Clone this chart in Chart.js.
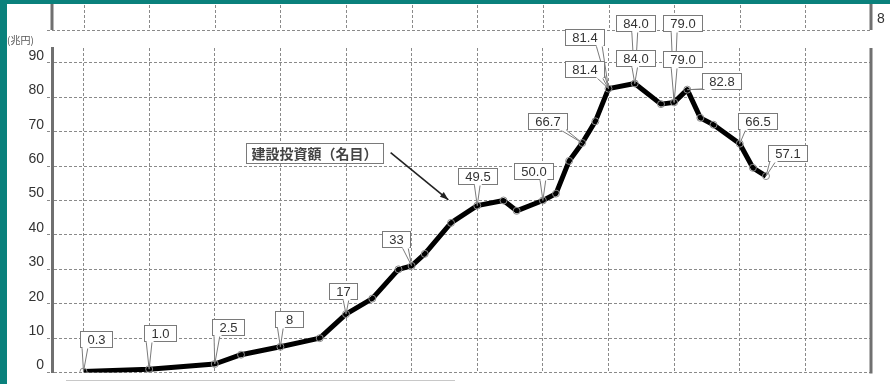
<!DOCTYPE html>
<html>
<head>
<meta charset="utf-8">
<script src="https://cdn.jsdelivr.net/npm/chart.js@4.4.0/dist/chart.umd.min.js"></script>
<style>
  body { margin: 0; background: #fff; }
  #wrap { position: relative; width: 890px; height: 384px; }
</style>
</head>
<body>
<div id="wrap"><canvas id="chart" width="890" height="384"></canvas></div>
<script>
// Data (fiscal year, construction investment in trillion yen)
const years = [1950, 1955, 1960, 1962, 1965, 1968, 1970, 1972, 1974, 1975, 1976, 1978, 1980, 1982, 1983,
  1985, 1986, 1987, 1988, 1989, 1990, 1992, 1994, 1995, 1996, 1997, 1998, 2000, 2001, 2002];
const values = [0.3, 1.0, 2.5, 5.2, 7.5, 10, 17, 21.5, 30, 31, 34.5, 43.5, 48.5, 50, 47,
  50.0, 52, 61.5, 66.7, 73, 82.5, 84.0, 78, 78.5, 82.2, 74, 72, 66.5, 59.5, 57.1];

// Value labels shown in the callout boxes (first three are the ghost copies higher up)
const labelYears = [1990, 1992, 1995, 1950, 1955, 1960, 1965, 1970, 1975, 1980, 1985, 1988, 1990, 1992, 1995, 1996, 2000, 2002];
const labelTexts = ['81.4', '84.0', '79.0', '0.3', '1.0', '2.5', '8', '17', '33', '49.5', '50.0', '66.7', '81.4', '84.0', '79.0', '82.8', '66.5', '57.1'];

const yTicks = [0, 10, 20, 30, 40, 50, 60, 70, 80, 90];
const xGridYears = [1950, 1955, 1960, 1965, 1970, 1975, 1980, 1985, 1990, 1995, 2000, 2005];
const seriesName = '建設投資額（名目）';
const unitLabel = '(兆円)';

// callout box offsets from the point (px)
const labelOffsets = [[-24, -52], [1, -60], [8, -79], [12, -33], [11, -36], [13, -37], [9, -28], [-3, -23], [-16, -27],
  [0, -30], [-9, -29], [-35, -22], [-24, -20], [1, -25], [8, -43], [34, -9], [18, -23], [21, -23]];

const GRID = '#8a8a8a';
const AXIS = '#707070';
const TEAL = '#0a817c';
const NUM_FONT = '"Liberation Sans", Arial, sans-serif';

function callout(ctx, px, py, cx, cy, text) {
  ctx.save();
  ctx.font = '13px ' + NUM_FONT;
  const w = Math.round(Math.max(ctx.measureText(text).width + 14, 28));
  const h = 16;
  const l = Math.round(cx - w / 2), t = Math.round(cy - h / 2), r = l + w, b = t + h;
  ctx.strokeStyle = '#7a7a7a';
  ctx.lineWidth = 1;
  ctx.fillStyle = '#fff';
  let b1, b2;
  if (py > b) {
    const bx = Math.min(Math.max(px, l + 5), r - 5);
    b1 = [bx - 3, b]; b2 = [bx + 3, b];
  } else if (px < l) {
    b1 = [l, cy - 3]; b2 = [l, cy + 3];
  } else {
    b1 = [r, cy - 3]; b2 = [r, cy + 3];
  }
  ctx.beginPath();
  ctx.moveTo(b1[0], b1[1]); ctx.lineTo(px, py); ctx.lineTo(b2[0], b2[1]);
  ctx.fill(); ctx.stroke();
  ctx.fillRect(l, t, w, h);
  ctx.strokeRect(l + 0.5, t + 0.5, w, h);
  ctx.fillRect(Math.min(b1[0], b2[0]) + 0.5, Math.min(b1[1], b2[1]) - 0.5, Math.abs(b2[0] - b1[0]) + 1, Math.abs(b2[1] - b1[1]) + 2);
  ctx.fillStyle = '#333';
  ctx.textAlign = 'center';
  ctx.textBaseline = 'middle';
  ctx.fillText(text, l + w / 2 + 0.5, t + h / 2 + 1);
  ctx.restore();
}

const decor = {
  id: 'decor',
  afterDraw(chart) {
    const ctx = chart.ctx;
    const a = chart.chartArea;
    const xs = chart.scales.x, ys = chart.scales.y;
    ctx.save();

    // strip of the panel above
    ctx.strokeStyle = GRID;
    ctx.lineWidth = 1;
    ctx.setLineDash([3, 2]);
    ctx.beginPath();
    ctx.moveTo(a.left - 5, 30.5); ctx.lineTo(a.right + 1, 30.5);
    xGridYears.forEach(yr => {
      const x = Math.round(xs.getPixelForValue(yr)) + 0.5;
      ctx.moveTo(x, 0); ctx.lineTo(x, 30);
    });
    ctx.stroke();
    ctx.setLineDash([]);
    ctx.strokeStyle = AXIS;
    ctx.lineWidth = 3;
    ctx.beginPath();
    ctx.moveTo(a.left, 0); ctx.lineTo(a.left, 30);
    ctx.moveTo(a.right, 0); ctx.lineTo(a.right, 30);
    // right border of main panel
    ctx.moveTo(a.right, a.top); ctx.lineTo(a.right, a.bottom + 1);
    ctx.stroke();
    ctx.fillStyle = '#333';
    ctx.font = '14px ' + NUM_FONT;
    ctx.textBaseline = 'middle';
    ctx.fillText('8', 877, 19);

    // unit label
    ctx.font = '10px "Noto Sans CJK JP", sans-serif';
    ctx.fillStyle = '#555';
    ctx.fillText(unitLabel, 7, 40);

    // faint line at bottom
    ctx.strokeStyle = '#c8c8c8';
    ctx.lineWidth = 1;
    ctx.beginPath();
    ctx.moveTo(66, 380.5); ctx.lineTo(455, 380.5);
    ctx.stroke();

    // value callouts
    const meta = chart.getDatasetMeta(0);
    labelYears.forEach((yr, i) => {
      const p = meta.data[years.indexOf(yr)];
      callout(ctx, p.x, p.y, p.x + labelOffsets[i][0], p.y + labelOffsets[i][1], labelTexts[i]);
    });

    // series name box + arrow
    const bx = Math.round(xs.getPixelForValue(1962.4)), by = Math.round(ys.getPixelForValue(63.9));
    const tw = Math.round(xs.getPixelForValue(1972.8)) - bx;
    ctx.font = 'bold 14px "Noto Sans CJK JP", sans-serif';
    ctx.fillStyle = '#fff';
    ctx.fillRect(bx, by - 10, tw, 20);
    ctx.strokeStyle = '#7a7a7a';
    ctx.lineWidth = 1;
    ctx.strokeRect(bx + 0.5, by - 9.5, tw, 20);
    ctx.fillStyle = '#444';
    ctx.textAlign = 'center';
    ctx.fillText(seriesName, bx + tw / 2, by + 1);
    const ax0 = xs.getPixelForValue(1973.4), ay0 = ys.getPixelForValue(63.9);
    const ax1 = xs.getPixelForValue(1977.8), ay1 = ys.getPixelForValue(50.2);
    ctx.strokeStyle = '#222';
    ctx.lineWidth = 1.6;
    ctx.beginPath(); ctx.moveTo(ax0, ay0); ctx.lineTo(ax1, ay1); ctx.stroke();
    const ang = Math.atan2(ay1 - ay0, ax1 - ax0);
    ctx.fillStyle = '#222';
    ctx.beginPath();
    ctx.moveTo(ax1, ay1);
    ctx.lineTo(ax1 - 9 * Math.cos(ang - 0.35), ay1 - 9 * Math.sin(ang - 0.35));
    ctx.lineTo(ax1 - 9 * Math.cos(ang + 0.35), ay1 - 9 * Math.sin(ang + 0.35));
    ctx.closePath(); ctx.fill();

    // teal frame
    ctx.fillStyle = TEAL;
    ctx.fillRect(0, 0, 890, 4);
    ctx.fillRect(0, 0, 7, 384);
    ctx.restore();
  }
};

new Chart(document.getElementById('chart'), {
  type: 'line',
  data: {
    datasets: [{
      label: seriesName,
      data: years.map((y, i) => ({ x: y, y: values[i] })),
      borderColor: '#000',
      borderWidth: 5,
      borderJoinStyle: 'round',
      tension: 0,
      pointRadius: 3.5,
      pointBorderWidth: 1,
      pointBorderColor: '#8c8c8c',
      pointBackgroundColor: 'rgba(255,255,255,0)'
    }]
  },
  options: {
    responsive: false,
    animation: false,
    layout: { padding: { left: 0, top: 48, right: 19, bottom: 11 } },
    plugins: { legend: { display: false }, tooltip: { enabled: false } },
    scales: {
      x: {
        type: 'linear',
        min: 1947.6,
        max: 2010,
        afterBuildTicks: s => { s.ticks = xGridYears.map(v => ({ value: v })); },
        afterFit: s => { s.height = 0; },
        ticks: { display: false },
        border: { display: false, dash: [3, 2] },
        grid: { color: GRID, lineWidth: 1, drawTicks: false }
      },
      y: {
        min: 0,
        max: 94.3,
        afterBuildTicks: s => { s.ticks = yTicks.map(v => ({ value: v })); },
        afterFit: s => { s.width = 52; },
        ticks: {
          color: '#333',
          font: { size: 14, family: NUM_FONT },
          padding: 3,
          labelOffset: -7
        },
        border: { display: true, color: AXIS, width: 3, dash: [3, 2] },
        grid: { color: GRID, lineWidth: 1, tickLength: 5, tickColor: GRID, tickBorderDash: [3, 2] }
      }
    }
  },
  plugins: [decor]
});
</script>
</body>
</html>
